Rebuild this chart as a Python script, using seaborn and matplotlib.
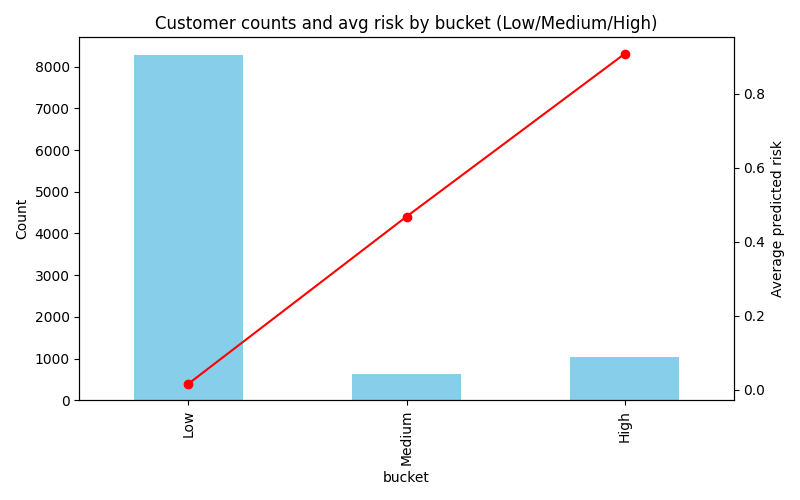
import pandas as pd
import seaborn as sns
import matplotlib.pyplot as plt

# data
buckets = ["Low", "Medium", "High"]
counts = [8290, 625, 1030]
avg_risk = [0.016, 0.468, 0.908]

df = pd.DataFrame({"bucket": buckets, "count": counts, "avg_risk": avg_risk})

fig, ax = plt.subplots(figsize=(8, 5), dpi=100)
sns.barplot(data=df, x="bucket", y="count", color="skyblue",
            saturation=1, width=0.5, ax=ax)
ax.set_xlim(-0.5, len(buckets) - 0.5)
ax.set_ylabel("Count")
ax.set_xlabel("bucket")
ax.tick_params(axis="x", labelrotation=90)

ax2 = ax.twinx()
ax2.plot(ax.get_xticks(), df["avg_risk"], color="red", marker="o")
ax2.set_ylabel("Average predicted risk")

ax.set_title("Customer counts and avg risk by bucket (Low/Medium/High)")
plt.tight_layout()
plt.savefig("out.png")
